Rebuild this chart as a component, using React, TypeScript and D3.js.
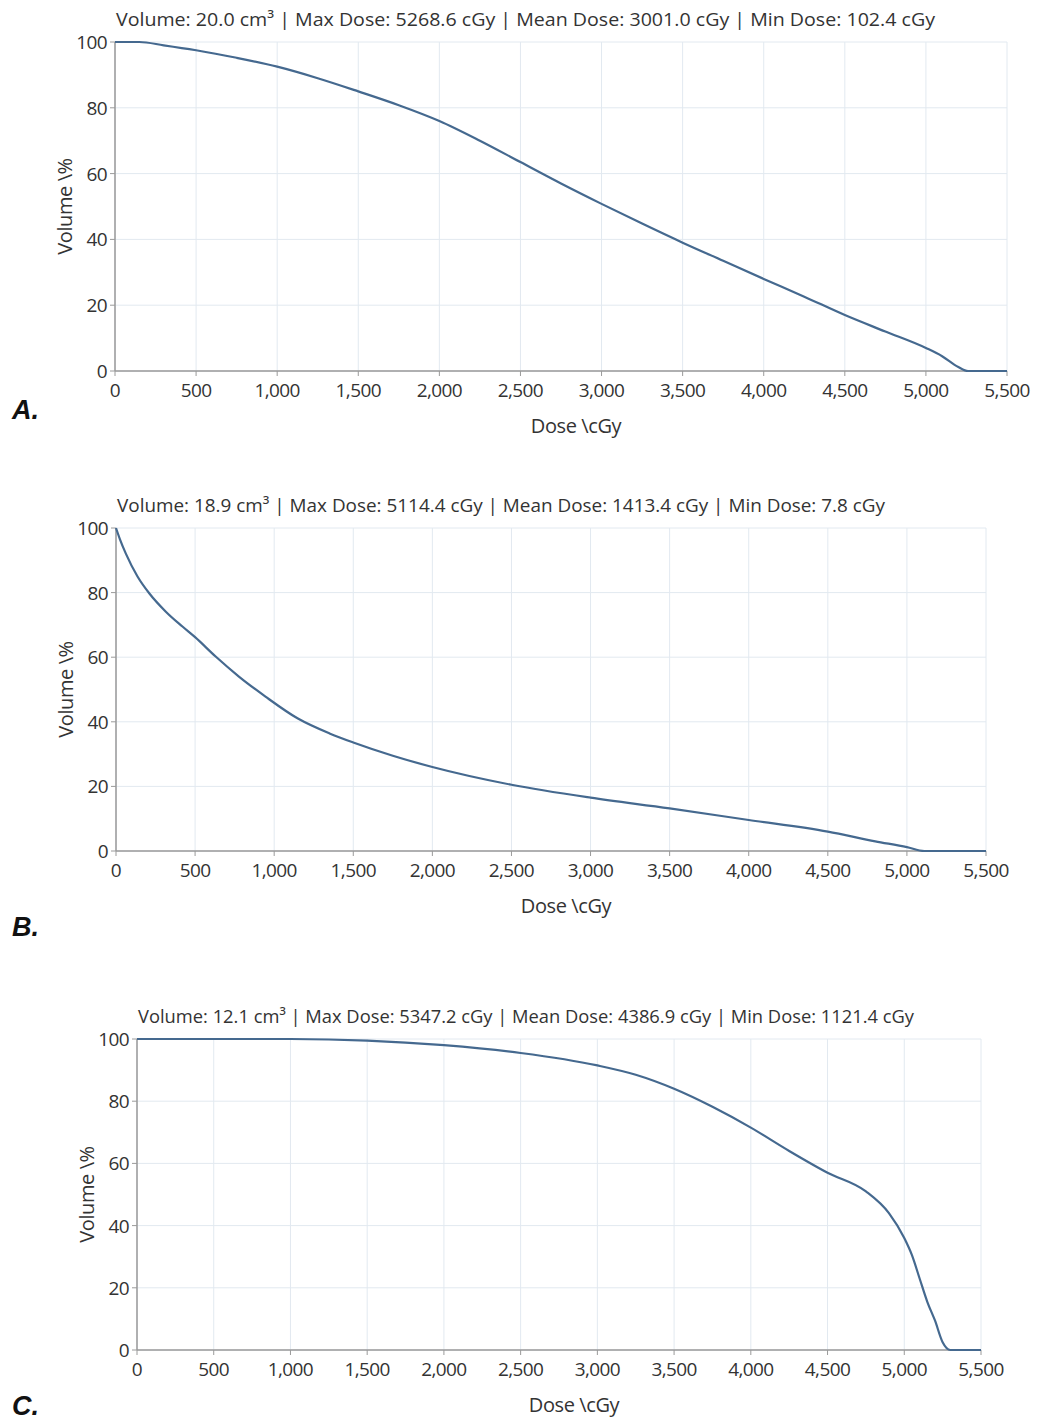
import React from 'react'
import * as d3 from 'd3'

// dose (cGy) / volume (%) pairs
const doseA = [0, 150, 300, 500, 750, 1000, 1250, 1500, 1750, 2000, 2250, 2500, 2750, 3000, 3250, 3500, 3750, 4000, 4250, 4500, 4750, 5000, 5100, 5200, 5260, 5500]
const volA = [100, 100, 99, 97.5, 95.2, 92.5, 89, 85, 80.8, 76, 70, 63.5, 57, 50.8, 44.8, 39, 33.5, 28, 22.6, 17, 12, 7, 4.5, 1.2, 0, 0]

const doseB = [0, 25, 63, 136, 210, 315, 420, 500, 630, 777, 945, 1150, 1350, 1500, 1750, 2000, 2500, 3000, 3500, 4000, 4500, 4800, 5000, 5110, 5500]
const volB = [100, 96.5, 92, 85, 79.8, 74.1, 69.5, 66.2, 60.2, 54, 47.8, 41, 36.4, 33.6, 29.5, 26, 20.5, 16.5, 13.2, 9.6, 6, 3, 1.2, 0, 0]

const doseC = [0, 1000, 1500, 2000, 2500, 3000, 3250, 3500, 3750, 4000, 4250, 4500, 4750, 4900, 5000, 5050, 5100, 5150, 5200, 5250, 5300, 5500]
const volC = [100, 100, 99.5, 98, 95.5, 91.5, 88.5, 84, 78.2, 71.5, 64, 57, 51, 44, 36, 30.5, 23, 15.5, 9.5, 2.5, 0, 0]

const titles = [
  'Volume: 20.0 cm³ | Max Dose: 5268.6 cGy | Mean Dose: 3001.0 cGy | Min Dose: 102.4 cGy',
  'Volume: 18.9 cm³ | Max Dose: 5114.4 cGy | Mean Dose: 1413.4 cGy | Min Dose: 7.8 cGy',
  'Volume: 12.1 cm³ | Max Dose: 5347.2 cGy | Mean Dose: 4386.9 cGy | Min Dose: 1121.4 cGy'
]
const panelLetters = ['A.', 'B.', 'C.']
const xTicks = [0, 500, 1000, 1500, 2000, 2500, 3000, 3500, 4000, 4500, 5000, 5500]
const yTicks = [0, 20, 40, 60, 80, 100]

const FONT = '"Open Sans", "Noto Sans", sans-serif'
const GRID = '#e2e9f0'
const AXIS = '#9a9a9a'
const LINE = '#45698f'
const TEXT = '#333'

const Panel = ({ dose, vol, title, letter, x0, x1, y0, y1, titleW, letterY }) => {
  const x = d3.scaleLinear().domain([0, 5500]).range([x0, x1])
  const y = d3.scaleLinear().domain([0, 100]).range([y0, y1])
  const pts = dose.map((d, i) => [d, vol[i]])
  const line = d3
    .line()
    .x(d => x(d[0]))
    .y(d => y(d[1]))
    .curve(d3.curveMonotoneX)
  const fmt = d3.format(',')
  return (
    <g>
      {xTicks.map(t => (
        <line key={'gx' + t} x1={x(t)} x2={x(t)} y1={y(100)} y2={y(0)} stroke={GRID} strokeWidth={1} />
      ))}
      {yTicks.map(t => (
        <line key={'gy' + t} x1={x(0)} x2={x(5500)} y1={y(t)} y2={y(t)} stroke={GRID} strokeWidth={1} />
      ))}
      <line x1={x(0)} x2={x(0)} y1={y(100)} y2={y(0)} stroke={AXIS} strokeWidth={1.5} />
      <line x1={x(0)} x2={x(5500)} y1={y(0)} y2={y(0)} stroke={AXIS} strokeWidth={1.5} />
      {xTicks.map(t => (
        <g key={'tx' + t}>
          <line x1={x(t)} x2={x(t)} y1={y(0)} y2={y(0) + 5} stroke={AXIS} strokeWidth={1} />
          <text x={x(t)} y={y(0) + 26} textAnchor="middle" fontSize={19} fill={TEXT} fontFamily={FONT} letterSpacing={-0.6}>
            {fmt(t)}
          </text>
        </g>
      ))}
      {yTicks.map(t => (
        <g key={'ty' + t}>
          <line x1={x(0) - 5} x2={x(0)} y1={y(t)} y2={y(t)} stroke={AXIS} strokeWidth={1} />
          <text x={x(0) - 8} y={y(t) + 7} textAnchor="end" fontSize={19} fill={TEXT} fontFamily={FONT} letterSpacing={-0.6}>
            {t}
          </text>
        </g>
      ))}
      <path d={line(pts)} fill="none" stroke={LINE} strokeWidth={2.2} />
      <text x={x(0) + 1} y={y(100) - 16} fontSize={18.5} fill={TEXT} fontFamily={FONT} textLength={titleW} lengthAdjust="spacingAndGlyphs">
        {title}
      </text>
      <text
        transform={`translate(${x(0) - 43},${(y(0) + y(100)) / 2}) rotate(-90)`}
        textAnchor="middle"
        fontSize={20}
        fill={TEXT}
        fontFamily={FONT}
        letterSpacing={-0.4}
      >
        Volume \%
      </text>
      <text x={(x(0) + x(5500)) / 2 + 15} y={y(0) + 62} textAnchor="middle" fontSize={20} fill={TEXT} fontFamily={FONT} letterSpacing={-0.4}>
        Dose \cGy
      </text>
      <text x={12} y={letterY} fontSize={27} fontWeight="bold" fontStyle="italic" fill="#111" fontFamily='"Liberation Sans", Arial, sans-serif'>
        {letter}
      </text>
    </g>
  )
}

export default function App() {
  return (
    <svg width={1046} height={1422} style={{ position: 'absolute', left: 0, top: 0, background: '#fff' }}>
      <rect width={1046} height={1422} fill="#fff" />
      <Panel dose={doseA} vol={volA} title={titles[0]} letter={panelLetters[0]} x0={115} x1={1007} y0={371} y1={42} titleW={819} letterY={419} />
      <Panel dose={doseB} vol={volB} title={titles[1]} letter={panelLetters[1]} x0={116} x1={986} y0={851} y1={528} titleW={768} letterY={936} />
      <Panel dose={doseC} vol={volC} title={titles[2]} letter={panelLetters[2]} x0={137} x1={981} y0={1350} y1={1039} titleW={776} letterY={1415} />
    </svg>
  )
}
